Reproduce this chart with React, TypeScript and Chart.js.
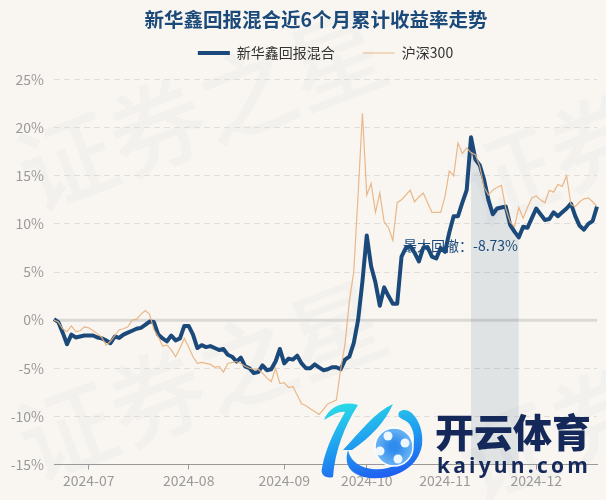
import React, { useEffect, useRef } from "react";
import { Chart, registerables } from "chart.js";

Chart.register(...registerables);

const FONT = '"Noto Sans CJK SC", "Open Sans", sans-serif';
const TITLE = "新华鑫回报混合近6个月累计收益率走势";
const FUND_NAME = "新华鑫回报混合";
const INDEX_NAME = "沪深300";
const DRAWDOWN_LABEL = "最大回撤：-8.73%";

const dates = [
  "06-19","06-20","06-21","06-24","06-25","06-26","06-27","06-28",
  "07-01","07-02","07-03","07-04","07-05","07-08","07-09","07-10","07-11","07-12","07-15","07-16","07-17","07-18","07-19","07-22","07-23","07-24","07-25","07-26","07-29","07-30","07-31",
  "08-01","08-02","08-05","08-06","08-07","08-08","08-09","08-12","08-13","08-14","08-15","08-16","08-19","08-20","08-21","08-22","08-23","08-26","08-27","08-28","08-29","08-30",
  "09-02","09-03","09-04","09-05","09-06","09-09","09-10","09-11","09-12","09-13","09-18","09-19","09-20","09-23","09-24","09-25","09-26","09-27","09-30",
  "10-08","10-09","10-10","10-11","10-14","10-15","10-16","10-17","10-18","10-21","10-22","10-23","10-24","10-25","10-28","10-29","10-30","10-31",
  "11-01","11-04","11-05","11-06","11-07","11-08","11-11","11-12","11-13","11-14","11-15","11-18","11-19","11-20","11-21","11-22","11-25","11-26","11-27","11-28","11-29",
  "12-02","12-03","12-04","12-05","12-06","12-09","12-10","12-11","12-12","12-13","12-16","12-17","12-18","12-19","12-20",
];

const monthStarts = ["07-01", "08-01", "09-02", "10-08", "11-01", "12-02"];
const monthLabels = ["2024-07", "2024-08", "2024-09", "2024-10", "2024-11", "2024-12"];

const fund = [
  0.1,-0.2,-1.3,-2.5,-1.5,-1.8,-1.7,-1.6,
  -1.6,-1.6,-1.8,-1.9,-2.1,-2.4,-1.7,-1.85,-1.5,-1.3,-1.1,-0.9,-0.8,-0.5,-0.15,-0.2,-1.5,-1.9,-2.2,-1.6,-2.1,-1.9,-0.6,
  -0.6,-1.5,-2.9,-2.6,-2.8,-2.7,-2.9,-3.1,-3.0,-3.6,-3.8,-4.3,-3.9,-4.8,-5.0,-5.5,-5.4,-4.7,-5.2,-5.1,-4.3,-3.0,
  -4.5,-4.0,-4.1,-3.7,-4.5,-5.0,-5.0,-4.6,-4.9,-5.2,-5.1,-4.9,-4.9,-5.1,-4.1,-3.8,-2.4,0,4,
  8.8,5.6,3.9,1.5,3.4,2.5,1.7,1.7,6.6,7.5,7.7,7.0,6.1,7.5,7.6,6.6,6.4,7.5,
  7.1,9.1,10.8,10.8,12.2,13.5,19,16.7,16.1,14.6,12.5,11.0,11.6,11.7,11.8,9.9,9.2,8.6,9.7,9.6,10.6,
  11.6,11,10.4,10.5,11.2,10.8,11.2,11.6,12.1,10.8,9.8,9.4,10.0,10.3,11.8,
];

const hs300 = [
  0,-0.2,-0.9,-1.2,-0.6,-1.2,-1.1,-0.7,
  -0.8,-1.1,-1.4,-1.8,-2.6,-2.2,-1.6,-1.0,-0.9,-0.7,0,0.1,0.6,1.0,0.6,-1.0,-1.7,-2.7,-2.6,-3.1,-3.8,-2.9,-1.9,
  -2.8,-3.8,-4.5,-4.4,-4.5,-4.6,-4.9,-4.8,-5.4,-4.5,-4.4,-4.3,-4.5,-4.8,-5.0,-5.1,-5.1,-5.5,-6.0,-6.4,-5.0,-6.6,
  -6.5,-7,-6.9,-7.8,-8.7,-8.9,-9.2,-9.5,-9.8,-9.3,-8.7,-8.5,-8.3,-5.1,-2.5,2,5,13,21.5,
  13,14.2,11.2,13.2,10.2,9.6,8.3,12.2,12.5,13,13.5,12.3,12.8,13.2,12.2,11.2,11.2,11.2,
  12.8,15.5,15,18.4,17.3,17.9,17.4,17.2,16,13.8,13,13.5,13.8,14,11.6,10.2,9.7,11.7,10.6,11.7,12.7,
  12.9,12.5,12.2,13.5,13.3,14.1,13.9,15,12,11.8,12.3,12.6,12.7,12.3,11.8,
];

const DRAWDOWN_START = "11-11";
const DRAWDOWN_END = "11-26";

const BG = "#f9f6f2";
const NAVY = "#1b4a7a";
const ORANGE = "rgba(232,176,124,0.9)";
const GREY = "#9a9a9a";

const watermarkPlugin = {
  id: "page",
  beforeDraw(chart: any) {
    const { ctx, width, height } = chart;
    ctx.save();
    ctx.fillStyle = BG;
    ctx.fillRect(0, 0, width, height);
    ctx.fillStyle = "#f3f1ed";
    ctx.font = `500 96px ${FONT}`;
    ctx.textAlign = "left";
    ctx.textBaseline = "middle";
    const rows = [[22, 178], [22, 448], [462, 193], [462, 468]];
    rows.forEach(([x, y]) => {
      ctx.save();
      ctx.translate(x, y);
      ctx.rotate(-0.36);
      ctx.fillText("证券之星", 0, 0);
      ctx.restore();
    });
    ctx.restore();
  },
};

const overlayPlugin = {
  id: "overlay",
  beforeDatasetsDraw(chart: any) {
    const { ctx, chartArea, scales } = chart;
    const y = scales.y.getPixelForValue(0);
    ctx.save();
    ctx.strokeStyle = "#dbd9d6";
    ctx.lineWidth = 3;
    ctx.beginPath();
    ctx.moveTo(chartArea.left, y);
    ctx.lineTo(chartArea.right, y);
    ctx.stroke();
    ctx.restore();
  },
  afterDatasetDraw(chart: any, args: any) {
    if (args.index !== 2) return;
    const { ctx } = chart;
    ctx.save();
    ctx.fillStyle = NAVY;
    ctx.font = `14px ${FONT}`;
    ctx.textAlign = "right";
    ctx.textBaseline = "middle";
    ctx.fillText(DRAWDOWN_LABEL, 518, 246);
    ctx.restore();
  },
};

const logoPlugin = {
  id: "logo",
  afterDraw(chart: any) {
    const { ctx } = chart;
    ctx.save();
    const g = ctx.createLinearGradient(350, 400, 370, 480);
    g.addColorStop(0, "#2bdde6");
    g.addColorStop(0.55, "#1f9cf0");
    g.addColorStop(1, "#2060f0");
    ctx.fillStyle = g;
    ctx.beginPath();
    ctx.moveTo(324, 420);
    ctx.bezierCurveTo(330, 405, 345, 401, 358, 405);
    ctx.bezierCurveTo(345, 425, 335, 450, 333, 477);
    ctx.bezierCurveTo(326, 479, 320, 475, 322, 468);
    ctx.bezierCurveTo(326, 445, 338, 425, 345, 412);
    ctx.bezierCurveTo(338, 411, 332, 416, 324, 420);
    ctx.fill();
    ctx.beginPath();
    ctx.moveTo(343, 450);
    ctx.bezierCurveTo(360, 432, 375, 412, 393, 404);
    ctx.bezierCurveTo(385, 422, 372, 436, 352, 450);
    ctx.closePath();
    ctx.fill();
    ctx.beginPath();
    ctx.moveTo(348, 450);
    ctx.bezierCurveTo(352, 470, 380, 474, 398, 464);
    ctx.bezierCurveTo(414, 456, 418, 438, 410, 425);
    ctx.bezierCurveTo(406, 418, 396, 420, 399, 412);
    ctx.bezierCurveTo(410, 403, 425, 425, 422, 445);
    ctx.bezierCurveTo(418, 468, 395, 480, 370, 478);
    ctx.bezierCurveTo(352, 476, 343, 466, 348, 450);
    ctx.fill();
    const b = ctx.createRadialGradient(394, 447, 4, 394, 447, 19);
    b.addColorStop(0, "#2f8bec");
    b.addColorStop(1, "#6cb6f4");
    ctx.fillStyle = b;
    ctx.strokeStyle = "#ffffff";
    ctx.lineWidth = 1.5;
    ctx.beginPath();
    ctx.arc(394, 447, 19, 0, Math.PI * 2);
    ctx.fill();
    ctx.stroke();
    ctx.fillStyle = "#eef6fe";
    [[388, 436], [405, 443], [380, 451], [398, 459]].forEach(([x, y]) => {
      ctx.beginPath();
      ctx.arc(x, y, 4.5, 0, Math.PI * 2);
      ctx.fill();
    });
    ctx.fillStyle = "#14285a";
    ctx.textAlign = "left";
    ctx.textBaseline = "alphabetic";
    ctx.font = `900 39px ${FONT}`;
    ctx.fillText("开云体育", 435, 447);
    ctx.font = `700 21px "Open Sans", sans-serif`;
    (ctx as any).letterSpacing = "3.2px";
    ctx.fillText("kaiyun.com", 437, 473);
    ctx.restore();
  },
};

export default function App() {
  const ref = useRef<HTMLCanvasElement>(null);
  useEffect(() => {
    const startIdx = dates.indexOf(DRAWDOWN_START);
    const endIdx = dates.indexOf(DRAWDOWN_END);
    const shade = fund.map((v, i) => (i >= startIdx && i <= endIdx ? v : null));
    const chart = new Chart(ref.current as HTMLCanvasElement, {
      type: "line",
      data: {
        labels: dates,
        datasets: [
          {
            label: FUND_NAME,
            data: fund,
            borderColor: NAVY,
            backgroundColor: NAVY,
            borderWidth: 4,
            pointRadius: 0,
            pointStyle: "line",
            tension: 0,
            borderJoinStyle: "round",
            order: 2,
          },
          {
            label: INDEX_NAME,
            data: hs300,
            borderColor: ORANGE,
            backgroundColor: ORANGE,
            borderWidth: 1.2,
            pointRadius: 0,
            pointStyle: "line",
            tension: 0,
            order: 1,
          },
          {
            label: "drawdown",
            data: shade,
            borderWidth: 0,
            pointRadius: 0,
            fill: "start",
            backgroundColor: "rgba(27,74,122,0.11)",
            spanGaps: false,
            order: 3,
          },
        ],
      } as any,
      options: {
        responsive: false,
        animation: false,
        layout: { padding: { left: 35, right: 9, top: 0, bottom: 0 } },
        plugins: {
          tooltip: { enabled: false },
          title: {
            display: true,
            text: TITLE,
            color: NAVY,
            font: { family: FONT, size: 19.5, weight: "bold" },
            padding: { top: 8, bottom: -13.4 },
          },
          subtitle: {
            display: true,
            text: "",
            weight: 500,
            fullSize: false,
            padding: 0,
            font: { size: 8, lineHeight: 1.19 },
          },
          legend: {
            display: true,
            position: "top",
            fullSize: false,
            labels: {
              usePointStyle: true,
              pointStyleWidth: 32,
              padding: 28,
              color: "#333333",
              font: { family: FONT, size: 14 },
              filter: (item: any) => item.datasetIndex !== 2,
              sort: (a: any, b: any) => a.datasetIndex - b.datasetIndex,
            },
          },
        },
        scales: {
          x: {
            type: "category",
            offset: false,
            afterBuildTicks: (s: any) => {
              s.ticks = s.ticks.filter((t: any) => monthStarts.includes(dates[t.value]));
            },
            grid: { drawOnChartArea: false, drawTicks: true, tickLength: 5, color: "#999999" },
            border: { display: true, color: "#999999", width: 1 },
            ticks: {
              autoSkip: false,
              maxRotation: 0,
              padding: 3,
              color: GREY,
              font: { family: FONT, size: 14 },
              callback: (_v: any, i: number, ticks: any[]) =>
                monthLabels[monthStarts.indexOf(dates[ticks[i].value])],
            },
            afterFit: (s: any) => {
              s.height = 35.5;
              s._computeLabelArea = () => undefined;
            },
          },
          y: {
            min: -15,
            max: 25,
            grid: { drawTicks: false, color: "#e0dedb", lineWidth: 1 },
            border: { display: false, dash: [6, 4] },
            ticks: {
              stepSize: 5,
              padding: 10,
              color: GREY,
              font: { family: FONT, size: 14 },
              callback: (v: any) => `${v}%`,
            },
            afterFit: (s: any) => {
              s.width = 19;
              s._computeLabelArea = () => undefined;
            },
          },
        },
      },
      plugins: [watermarkPlugin, overlayPlugin, logoPlugin],
    } as any);
    return () => chart.destroy();
  }, []);
  return (
    <div style={{ position: "fixed", left: 0, top: 0, width: 606, height: 500, background: BG }}>
      <canvas ref={ref} width={606} height={500} style={{ display: "block" }} />
    </div>
  );
}
